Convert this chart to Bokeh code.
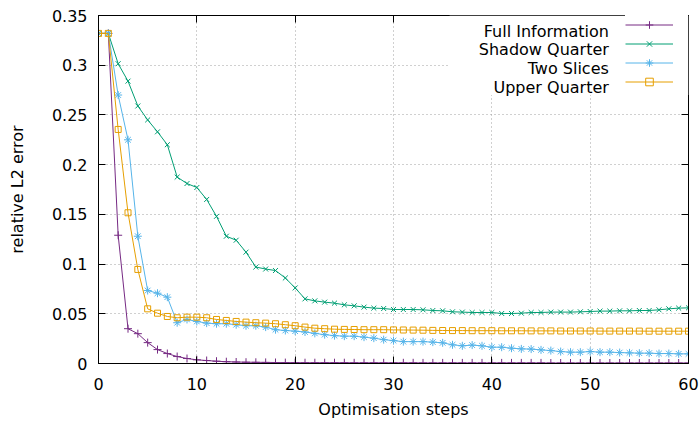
from bokeh.plotting import figure
from bokeh.models import (Range1d, FixedTicker, LinearAxis, Legend, LegendItem,
                          Label, BoxAnnotation, CustomJSTickFormatter)
from bokeh.embed import file_html
from bokeh.resources import INLINE

steps = list(range(61))

full_information = [
    0.332, 0.332, 0.129, 0.035, 0.030, 0.021, 0.014, 0.010, 0.007, 0.005,
    0.0037, 0.0030, 0.0023, 0.0018, 0.0015, 0.0013, 0.0012, 0.0011, 0.0010, 0.0009,
    0.0009, 0.0008, 0.0008, 0.0008, 0.0008, 0.0008, 0.0007, 0.0007, 0.0007, 0.0007,
    0.0007, 0.0007, 0.0007, 0.0006, 0.0006, 0.0006, 0.0006, 0.0006, 0.0006, 0.0006,
    0.0006, 0.0006, 0.0006, 0.0006, 0.0006, 0.0006, 0.0005, 0.0005, 0.0005, 0.0005,
    0.0005, 0.0005, 0.0005, 0.0005, 0.0005, 0.0005, 0.0005, 0.0005, 0.0005, 0.0005,
    0.0005]

shadow_quarter = [
    0.332, 0.332, 0.3015, 0.284, 0.259, 0.245, 0.233, 0.220, 0.1875, 0.181,
    0.177, 0.165, 0.148, 0.128, 0.124, 0.112, 0.097, 0.095, 0.0935, 0.086,
    0.076, 0.065, 0.063, 0.0617, 0.0607, 0.059, 0.058, 0.0567, 0.0557, 0.0553,
    0.0543, 0.0543, 0.0543, 0.054, 0.0533, 0.053, 0.052, 0.0517, 0.0513, 0.0513,
    0.0513, 0.0503, 0.0503, 0.0506, 0.0513, 0.0513, 0.0517, 0.0517, 0.0517, 0.052,
    0.0523, 0.0527, 0.0527, 0.053, 0.053, 0.0533, 0.0533, 0.054, 0.055, 0.0557,
    0.056]

two_slices = [
    0.332, 0.332, 0.270, 0.225, 0.128, 0.0734, 0.0707, 0.0667, 0.041, 0.0443,
    0.0423, 0.0406, 0.040, 0.040, 0.039, 0.038, 0.038, 0.0366, 0.034, 0.0332,
    0.0325, 0.0317, 0.0303, 0.029, 0.028, 0.0275, 0.0275, 0.0265, 0.0255, 0.024,
    0.023, 0.022, 0.022, 0.022, 0.0215, 0.0208, 0.0188, 0.0178, 0.0185, 0.0178,
    0.0164, 0.0164, 0.0154, 0.0147, 0.0145, 0.0137, 0.013, 0.012, 0.0114, 0.0114,
    0.012, 0.0114, 0.0114, 0.011, 0.0107, 0.0104, 0.0104, 0.0100, 0.0100, 0.0097,
    0.0097]

upper_quarter = [
    0.332, 0.332, 0.2354, 0.1516, 0.0946, 0.055, 0.0506, 0.0473, 0.046, 0.0466,
    0.0466, 0.046, 0.0443, 0.0433, 0.0423, 0.0416, 0.041, 0.0406, 0.040, 0.039,
    0.038, 0.0366, 0.0355, 0.035, 0.0345, 0.0343, 0.0342, 0.034, 0.034, 0.034,
    0.0338, 0.0337, 0.0336, 0.0335, 0.0333, 0.0332, 0.0331, 0.0331, 0.033, 0.033,
    0.033, 0.0329, 0.0329, 0.0329, 0.0328, 0.0328, 0.0328, 0.0327, 0.0327, 0.0327,
    0.0327, 0.0326, 0.0326, 0.0326, 0.0326, 0.0326, 0.0325, 0.0325, 0.0325, 0.0325,
    0.0325]

series_names = ["Full Information", "Shadow Quarter", "Two Slices", "Upper Quarter"]
series_values = [full_information, shadow_quarter, two_slices, upper_quarter]
series_colors = ["#762a83", "#009e73", "#56b4e9", "#e69f00"]
series_markers = ["cross", "x", "asterisk", "square"]
marker_sizes = [8, 7, 8, 6]

x_ticks = [0, 10, 20, 30, 40, 50, 60]
y_ticks = [0, 0.05, 0.1, 0.15, 0.2, 0.25, 0.3, 0.35]
y_tick_labels = ["0", "0.05", "0.1", "0.15", "0.2", "0.25", "0.3", "0.35"]

FONT = "DejaVu Sans"
FS = "16px"

p = figure(width=700, height=422, output_backend="svg", toolbar_location=None,
           x_range=Range1d(0, 60), y_range=Range1d(0, 0.35),
           min_border_left=98, min_border_right=12, min_border_top=15,
           min_border_bottom=59)
p.background_fill_color = "white"
p.border_fill_color = "white"
p.outline_line_color = "black"
p.outline_line_width = 1

p.xaxis.ticker = FixedTicker(ticks=x_ticks)
p.yaxis.ticker = FixedTicker(ticks=y_ticks)
p.yaxis.major_label_overrides = {t: l for t, l in zip(y_ticks, y_tick_labels)}
for ax in (p.xaxis, p.yaxis):
    ax.major_tick_in = 7
    ax.major_tick_out = 0
    ax.minor_tick_line_color = None
    ax.major_tick_line_color = "black"
    ax.axis_line_color = "black"
    ax.major_label_text_font = FONT
    ax.major_label_text_font_size = FS
    ax.major_label_text_color = "black"
    ax.axis_label_text_font = FONT
    ax.axis_label_text_font_size = FS
    ax.axis_label_text_font_style = "normal"
    ax.axis_label_text_color = "black"
p.xaxis.axis_label = "Optimisation steps"
p.yaxis.axis_label = "relative L2 error"
p.xaxis.major_label_standoff = 14
p.yaxis.major_label_standoff = 11
p.xaxis.axis_label_standoff = 7
p.yaxis.axis_label_standoff = 22

for loc, ticks in (("above", x_ticks), ("right", y_ticks)):
    ax = LinearAxis(ticker=FixedTicker(ticks=ticks),
                    formatter=CustomJSTickFormatter(code="return ''"),
                    major_tick_in=7, major_tick_out=0, minor_tick_line_color=None,
                    major_label_standoff=0, major_label_text_font_size="1px",
                    axis_line_color="black")
    p.add_layout(ax, loc)

for g in (p.xgrid, p.ygrid):
    g.grid_line_color = "#a0a0a0"
    g.grid_line_dash = "1 3"
    g.grid_line_width = 1

items = []
for name, vals, col, mk, ms in zip(series_names, series_values, series_colors,
                                   series_markers, marker_sizes):
    ln = p.line(steps, vals, line_color=col, line_width=1)
    sc = p.scatter(steps, vals, marker=mk, size=ms, line_color=col,
                   fill_color=None, line_width=1)
    items.append(LegendItem(label=" ", renderers=[ln, sc]))

# white area behind the key (hides the grid there)
p.add_layout(BoxAnnotation(left=35.7, bottom=0.270, fill_color="white",
                           fill_alpha=1, line_color=None))

legend = Legend(items=items, location="top_right", margin=0, padding=6,
                spacing=0, glyph_width=48, glyph_height=19, label_height=19,
                label_width=15, label_standoff=0, background_fill_color="white",
                background_fill_alpha=1, border_line_color=None,
                label_text_font_size="1px")
p.add_layout(legend)

key_rows_y = [0.3339, 0.3155, 0.2967, 0.2779]
for name, yy in zip(series_names, key_rows_y):
    p.add_layout(Label(x=51.9, y=yy, text=name, text_align="right",
                       text_baseline="middle", text_font=FONT, text_font_size=FS,
                       text_color="black"))

open("out.html", "w").write(file_html(p, INLINE))
